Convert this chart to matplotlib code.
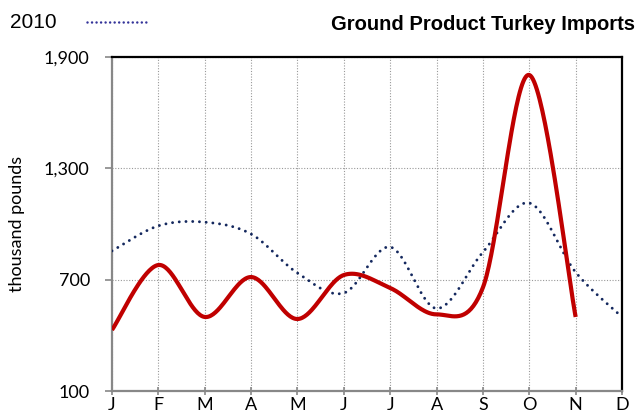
import numpy as np
from matplotlib import pyplot as plt
from matplotlib.ticker import FuncFormatter

MONTHS = ['J', 'F', 'M', 'A', 'M', 'J', 'J', 'A', 'S', 'O', 'N', 'D']
IMPORTS_2010 = [855, 990, 1010, 946, 736, 628, 876, 545, 848, 1113, 740, 499]
IMPORTS_2011 = [429, 779, 499, 714, 488, 725, 655, 513, 658, 1803, 499]
Y_TICKS = [100, 700, 1300, 1900]

RED = '#C00000'
NAVY = '#14285E'
TICK_FONT = 'Lato'


def smooth(xs, ys, steps=40):
    # excel style smoothed line: bezier segments, control points from neighbours
    pts = np.column_stack([xs, ys]).astype(float)
    pts = np.vstack([pts[0], pts, pts[-1]])
    out = []
    for i in range(1, len(pts) - 2):
        p0, p1, p2, p3 = pts[i - 1], pts[i], pts[i + 1], pts[i + 2]
        c1 = p1 + (p2 - p0) / 6.0
        c2 = p2 - (p3 - p1) / 6.0
        t = np.linspace(0, 1, steps)[:, None]
        seg = ((1 - t) ** 3) * p1 + 3 * ((1 - t) ** 2) * t * c1 + 3 * (1 - t) * t ** 2 * c2 + t ** 3 * p2
        out.append(seg if i == 1 else seg[1:])
    out = np.vstack(out)
    return out[:, 0], out[:, 1]


fig = plt.figure(figsize=(6.37, 4.15), dpi=100)
ax = fig.add_axes([0.1758, 0.0578, 0.8007, 0.8049])

x10, y10 = smooth(np.arange(len(IMPORTS_2010)), IMPORTS_2010)
ax.plot(x10, y10, color=NAVY, lw=2.1, linestyle=(0, (0.01, 2.3)),
        dash_capstyle='round', zorder=3)
x11, y11 = smooth(np.arange(len(IMPORTS_2011)), IMPORTS_2011)
ax.plot(x11, y11, color=RED, lw=3.0, solid_capstyle='butt', zorder=4)

ax.set_xlim(0, len(MONTHS) - 1)
ax.set_ylim(Y_TICKS[0], Y_TICKS[-1])
ax.set_xticks(range(len(MONTHS)))
ax.set_xticklabels(MONTHS, fontfamily=TICK_FONT, fontsize=13)
ax.set_yticks(Y_TICKS)
ax.yaxis.set_major_formatter(FuncFormatter(lambda v, p: f'{int(v):,}'))
for lab in ax.get_yticklabels():
    lab.set_fontfamily(TICK_FONT)
    lab.set_fontsize(13)

ax.grid(True, color='#999999', linestyle=(0, (1, 1.5)), lw=0.8)
ax.set_axisbelow(True)

for side in ['left', 'bottom']:
    ax.spines[side].set_color('#888888')
    ax.spines[side].set_linewidth(1.6)
for side in ['top', 'right']:
    ax.spines[side].set_color('black')
    ax.spines[side].set_linewidth(1.6)

ax.tick_params(axis='y', direction='out', length=5, width=1.2, color='#888888', pad=11)
ax.tick_params(axis='x', direction='inout', length=6, width=1.2, color='#888888', pad=1)

ax.set_ylabel('thousand pounds', fontfamily=TICK_FONT, fontsize=13, labelpad=14)

fig.text(0.015, 0.945, '2010', fontfamily='Liberation Sans', fontsize=15, va='center')
fig.lines.append(plt.Line2D([0.137, 0.229], [0.947, 0.947], transform=fig.transFigure,
                            color='#333399', lw=1.8, linestyle=(0, (0.01, 1.8)),
                            dash_capstyle='round'))
fig.text(0.997, 0.94, 'Ground Product Turkey Imports', fontfamily='Liberation Sans',
         fontsize=14.5, fontweight='bold', ha='right', va='center')

plt.savefig('out.png', dpi=100)
